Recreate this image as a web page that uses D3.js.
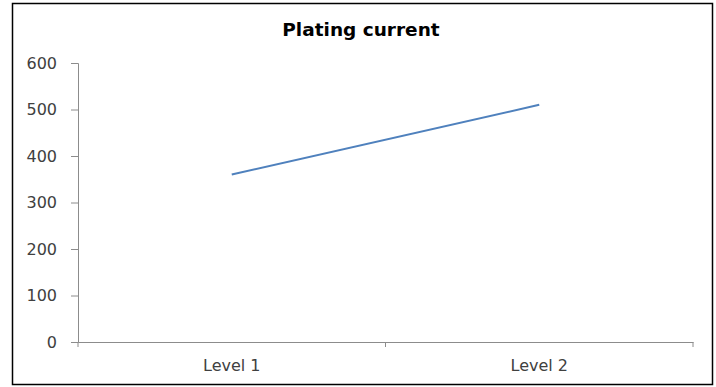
<!DOCTYPE html>
<html><head><meta charset="utf-8">
<script src="https://cdn.jsdelivr.net/npm/d3@7"></script>
<style>body{margin:0;background:#fff}svg{display:block}</style>
</head><body><svg id="c" width="716" height="387"></svg>
<script>
const categories = ["Level 1", "Level 2"];
const values = [360, 510];
const yTicks = [0, 100, 200, 300, 400, 500, 600];
const title = "Plating current";

const svg = d3.select("#c");
const W = 716, H = 387;
const m = {left: 78, right: 23, top: 63, bottom: 45};
const font = "'DejaVu Sans', sans-serif";

svg.append("rect").attr("x", 12.5).attr("y", 3.5).attr("width", 700).attr("height", 381)
  .attr("fill", "#fff").attr("stroke", "#000").attr("stroke-width", 1.5);

const x = d3.scaleBand().domain(categories).range([m.left, W - m.right]);
const y = d3.scaleLinear().domain([0, 600]).range([H - m.bottom, m.top]);

svg.append("text").attr("x", 361).attr("y", 36).attr("text-anchor", "middle")
  .attr("font-family", font).attr("font-weight", "bold").attr("font-size", 18.5)
  .attr("fill", "#000").text(title);

const ya = svg.append("g").attr("transform", `translate(${m.left},0)`)
  .call(d3.axisLeft(y).tickValues(yTicks).tickSize(7).tickPadding(14));
ya.select(".domain").attr("stroke", "#8c8c8c");
ya.selectAll(".tick line").attr("stroke", "#8c8c8c");
ya.selectAll("text").attr("font-family", font).attr("font-size", 16).attr("fill", "#404040");

const xa = svg.append("g").attr("transform", `translate(0,${H - m.bottom})`)
  .call(d3.axisBottom(x).tickSize(0).tickPadding(18));
xa.select(".domain").attr("stroke", "#8c8c8c");
xa.selectAll("text").attr("font-family", font).attr("font-size", 16).attr("fill", "#404040");
const bounds = [x.range()[0], x(categories[1]), x.range()[1]];
xa.selectAll(".btick").data(bounds).enter().append("line").attr("class", "btick")
  .attr("x1", d => d).attr("x2", d => d).attr("y1", 0).attr("y2", 5).attr("stroke", "#8c8c8c");

const line = d3.line().x((d, i) => x(categories[i]) + x.bandwidth() / 2).y(d => y(d));
svg.append("path").datum(values).attr("d", line).attr("fill", "none")
  .attr("stroke", "#4F81BD").attr("stroke-width", 2);
</script></body></html>
